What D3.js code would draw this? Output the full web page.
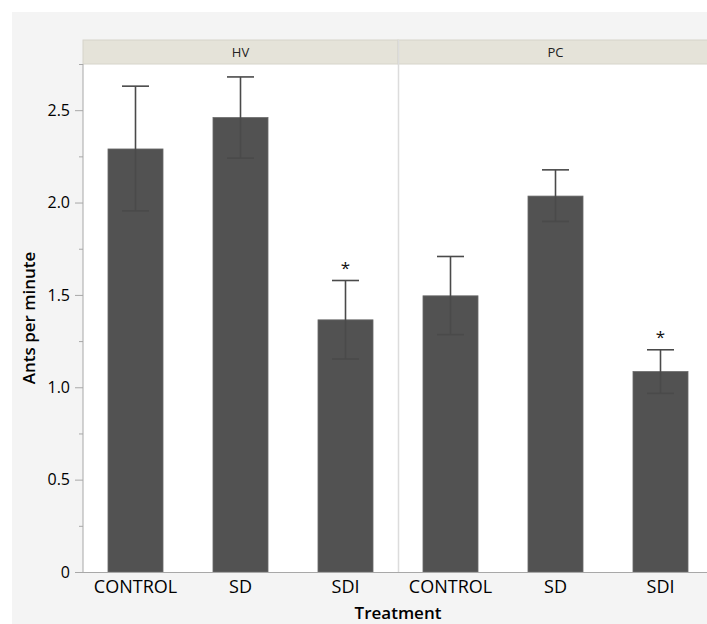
<!DOCTYPE html>
<html>
<head>
<meta charset="utf-8">
<script src="https://cdn.jsdelivr.net/npm/d3@7"></script>
<style>
  body { margin: 0; background: #fff; }
  svg { display: block; }
  text { font-family: "Open Sans", "Noto Sans", sans-serif; }
</style>
</head>
<body>
<svg width="707" height="624"></svg>
<script>
// panels and categories
let groups = ["HV", "PC"];
let treatments = ["CONTROL", "SD", "SDI"];

// mean ants per minute, with error bar ends
let hvMeans = [2.29, 2.46, 1.365];
let hvLow = [1.955, 2.24, 1.153];
let hvHigh = [2.63, 2.68, 1.578];
let pcMeans = [1.495, 2.035, 1.085];
let pcLow = [1.285, 1.898, 0.967];
let pcHigh = [1.708, 2.177, 1.203];

// treatments flagged with an asterisk
let marked = ["SDI"];

let yTicks = [0, 0.5, 1.0, 1.5, 2.0, 2.5];
let yMinorTicks = [0.25, 0.75, 1.25, 1.75, 2.25, 2.75];

let data = [];
groups.forEach(function (g, gi) {
    let m = gi === 0 ? hvMeans : pcMeans,
        lo = gi === 0 ? hvLow : pcLow,
        hi = gi === 0 ? hvHigh : pcHigh;
    treatments.forEach(function (t, i) {
        data.push({ group: g, treatment: t, mean: m[i], low: lo[i], high: hi[i] });
    });
});

let svg = d3.select("svg");

let plotLeft = 83, stripTop = 40, stripH = 24, plotBottom = 572, panelW = 315;
let plotTop = stripTop + stripH;

// grey frame background
svg.append("rect")
    .attr("x", 12).attr("y", 12)
    .attr("width", 707).attr("height", 624)
    .attr("fill", "#f4f4f4");

let xPanel = d3.scaleBand().domain(groups).range([plotLeft, plotLeft + panelW * groups.length]);
let xCat = d3.scaleBand().domain(treatments).range([0, panelW])
    .paddingInner(0.476).paddingOuter(0.238);
let yScale = d3.scaleLinear().domain([0, 2.75]).range([plotBottom, plotTop]);

// plot area
svg.append("rect")
    .attr("x", plotLeft).attr("y", plotTop)
    .attr("width", panelW * groups.length).attr("height", plotBottom - plotTop)
    .attr("fill", "#fff");

// panel strips
let strips = svg.selectAll(".strip")
    .data(groups)
    .enter().append("g")
    .attr("class", "strip")
    .attr("transform", function (d) { return "translate(" + xPanel(d) + "," + stripTop + ")"; });

strips.append("rect")
    .attr("width", panelW).attr("height", stripH)
    .attr("fill", "#e5e3d9")
    .attr("stroke", "#d6d4ca")
    .attr("stroke-width", 1);

strips.append("text")
    .attr("x", panelW / 2).attr("y", stripH / 2)
    .attr("dy", "0.35em")
    .attr("text-anchor", "middle")
    .attr("font-size", 13)
    .attr("fill", "#222")
    .text(function (d) { return d; });

// divider between panels
svg.append("line")
    .attr("x1", xPanel("PC") + 0.5).attr("x2", xPanel("PC") + 0.5)
    .attr("y1", stripTop).attr("y2", plotBottom)
    .attr("stroke", "#dcdcdc").attr("stroke-width", 1.5);

// bars
svg.selectAll(".bar")
    .data(data)
    .enter().append("rect")
    .attr("class", "bar")
    .attr("x", function (d) { return xPanel(d.group) + xCat(d.treatment); })
    .attr("y", function (d) { return yScale(d.mean); })
    .attr("width", xCat.bandwidth())
    .attr("height", function (d) { return plotBottom - yScale(d.mean); })
    .attr("fill", "#525252")
    .attr("stroke", "#6a6a6a")
    .attr("stroke-width", 0.8);

// error bars
let cx = function (d) { return xPanel(d.group) + xCat(d.treatment) + xCat.bandwidth() / 2; };
let capW = 13.5;
let err = svg.selectAll(".err")
    .data(data)
    .enter().append("g")
    .attr("class", "err")
    .attr("stroke", "#4a4a4a")
    .attr("stroke-width", 1.6);

err.append("line")
    .attr("x1", cx).attr("x2", cx)
    .attr("y1", function (d) { return yScale(d.high); })
    .attr("y2", function (d) { return yScale(d.low); });
err.append("line")
    .attr("x1", function (d) { return cx(d) - capW; })
    .attr("x2", function (d) { return cx(d) + capW; })
    .attr("y1", function (d) { return yScale(d.high); })
    .attr("y2", function (d) { return yScale(d.high); });
err.append("line")
    .attr("x1", function (d) { return cx(d) - capW; })
    .attr("x2", function (d) { return cx(d) + capW; })
    .attr("y1", function (d) { return yScale(d.low); })
    .attr("y2", function (d) { return yScale(d.low); });

// asterisks
svg.selectAll(".star")
    .data(data.filter(function (d) { return marked.indexOf(d.treatment) >= 0; }))
    .enter().append("text")
    .attr("class", "star")
    .attr("x", cx)
    .attr("y", function (d) { return yScale(d.high) - 7; })
    .attr("text-anchor", "middle")
    .attr("font-size", 17)
    .attr("fill", "#111")
    .text("*");

// y axis
let yAxis = svg.append("g")
    .attr("transform", "translate(" + plotLeft + ",0)")
    .call(d3.axisLeft(yScale).tickValues(yTicks).tickSize(8).tickPadding(5)
        .tickFormat(function (d) { return d === 0 ? "0" : d3.format(".1f")(d); }));
yAxis.select(".domain").attr("stroke", "#a8a8a8").attr("d", "M0," + plotTop + "V" + plotBottom);
yAxis.selectAll(".tick line").attr("stroke", "#a8a8a8");
yAxis.selectAll(".tick text")
    .attr("font-size", 16)
    .attr("font-family", "'Open Sans', sans-serif")
    .attr("font-weight", 500)
    .attr("fill", "#000");

let yMinor = svg.append("g")
    .attr("transform", "translate(" + plotLeft + ",0)")
    .call(d3.axisLeft(yScale).tickValues(yMinorTicks).tickSize(4).tickFormat(""));
yMinor.select(".domain").remove();
yMinor.selectAll(".tick line").attr("stroke", "#a8a8a8");

// x axes, one per panel
groups.forEach(function (g) {
    let ax = svg.append("g")
        .attr("transform", "translate(" + xPanel(g) + "," + plotBottom + ")")
        .call(d3.axisBottom(xCat).tickSize(0).tickPadding(8));
    ax.select(".domain").attr("stroke", "#a8a8a8").attr("d", "M0,0.5H" + panelW);
    ax.selectAll(".tick text")
        .attr("font-size", 18)
        .attr("font-family", "'Open Sans', sans-serif")
        .attr("font-weight", 500)
        .attr("fill", "#000");
});

// axis titles
svg.append("text")
    .attr("x", xPanel("PC"))
    .attr("y", 619)
    .attr("text-anchor", "middle")
    .attr("font-size", 17)
    .attr("font-weight", 600)
    .attr("fill", "#000")
    .text("Treatment");

svg.append("text")
    .attr("transform", "translate(35," + ((plotTop + plotBottom) / 2) + ") rotate(-90)")
    .attr("text-anchor", "middle")
    .attr("font-size", 17)
    .attr("font-weight", 600)
    .attr("fill", "#000")
    .text("Ants per minute");
</script>
</body>
</html>
